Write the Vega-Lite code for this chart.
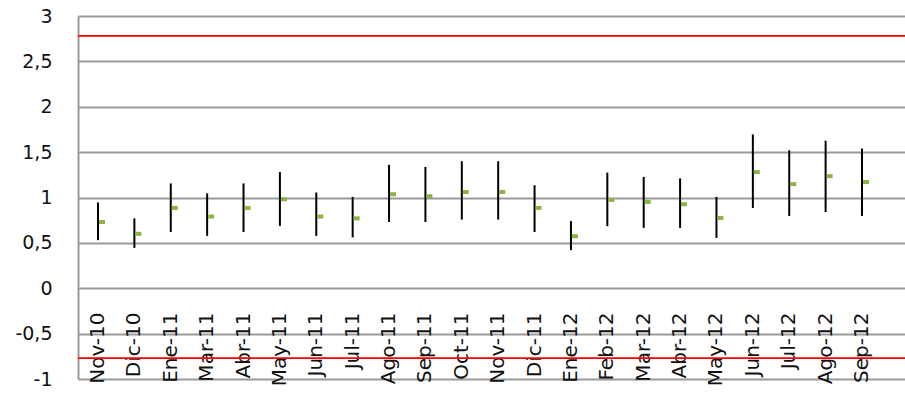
{
  "$schema": "https://vega.github.io/schema/vega-lite/v6.json",
  "width": 827,
  "height": 363,
  "autosize": {"type": "none"},
  "padding": {"left": 78, "top": 16, "right": 0, "bottom": 15},
  "background": "white",
  "config": {"view": {"stroke": null}, "font": "DejaVu Sans"},
  "datasets": {
    "stats": [
      {"month": "Nov-10", "low": 0.53, "mean": 0.73, "high": 0.945},
      {"month": "Dic-10", "low": 0.445, "mean": 0.6, "high": 0.77},
      {"month": "Ene-11", "low": 0.62, "mean": 0.885, "high": 1.155},
      {"month": "Mar-11", "low": 0.577, "mean": 0.79, "high": 1.045},
      {"month": "Abr-11", "low": 0.62, "mean": 0.885, "high": 1.155},
      {"month": "May-11", "low": 0.687, "mean": 0.98, "high": 1.28},
      {"month": "Jun-11", "low": 0.577, "mean": 0.79, "high": 1.055},
      {"month": "Jul-11", "low": 0.56, "mean": 0.77, "high": 1.007},
      {"month": "Ago-11", "low": 0.73, "mean": 1.036, "high": 1.36},
      {"month": "Sep-11", "low": 0.73, "mean": 1.014, "high": 1.337},
      {"month": "Oct-11", "low": 0.757, "mean": 1.06, "high": 1.4},
      {"month": "Nov-11", "low": 0.757, "mean": 1.06, "high": 1.4},
      {"month": "Dic-11", "low": 0.62, "mean": 0.885, "high": 1.135},
      {"month": "Ene-12", "low": 0.42, "mean": 0.573, "high": 0.74},
      {"month": "Feb-12", "low": 0.684, "mean": 0.974, "high": 1.275},
      {"month": "Mar-12", "low": 0.665, "mean": 0.952, "high": 1.227},
      {"month": "Abr-12", "low": 0.665, "mean": 0.926, "high": 1.21},
      {"month": "May-12", "low": 0.555, "mean": 0.775, "high": 1.007},
      {"month": "Jun-12", "low": 0.885, "mean": 1.28, "high": 1.695},
      {"month": "Jul-12", "low": 0.797, "mean": 1.147, "high": 1.52},
      {"month": "Ago-12", "low": 0.84, "mean": 1.235, "high": 1.625},
      {"month": "Sep-12", "low": 0.797, "mean": 1.17, "high": 1.54}
    ],
    "limits": [{"limit": 2.78}, {"limit": -0.77}]
  },
  "layer": [
    {
      "data": {"name": "stats"},
      "mark": {"type": "rule", "color": "black", "strokeWidth": 2},
      "encoding": {
        "x": {
          "field": "month", "type": "nominal", "sort": null,
          "scale": {"type": "band", "paddingInner": 0, "paddingOuter": 0.366, "align": 0.068},
          "axis": {
            "title": null, "labelAngle": -90, "offset": -67, "domain": false, "ticks": false,
            "labelPadding": 0, "labelFontSize": 20, "labelColor": "#111111", "grid": false,
            "labelOverlap": false
          }
        },
        "y": {
          "field": "low", "type": "quantitative",
          "scale": {"domain": [-1, 3], "nice": false, "zero": false},
          "axis": {
            "title": null, "values": [-1, -0.5, 0, 0.5, 1, 1.5, 2, 2.5, 3],
            "labelExpr": "replace(toString(datum.value), '.', ',')",
            "grid": true, "gridColor": "#9a9a9a", "gridWidth": 2, "gridOpacity": 1,
            "domainColor": "#9a9a9a", "domainWidth": 2, "ticks": false,
            "labelPadding": 26, "labelFontSize": 19, "labelColor": "#111111"
          }
        },
        "y2": {"field": "high"}
      }
    },
    {
      "data": {"name": "stats"},
      "mark": {"type": "tick", "color": "#8DB43E", "opacity": 1, "size": 6, "thickness": 4, "xOffset": 4},
      "encoding": {
        "x": {"field": "month", "type": "nominal", "sort": null},
        "y": {"field": "mean", "type": "quantitative"}
      }
    },
    {
      "data": {"name": "limits"},
      "mark": {"type": "rule", "color": "#ff0000", "strokeWidth": 1.8},
      "encoding": {
        "y": {"field": "limit", "type": "quantitative"}
      }
    }
  ]
}
